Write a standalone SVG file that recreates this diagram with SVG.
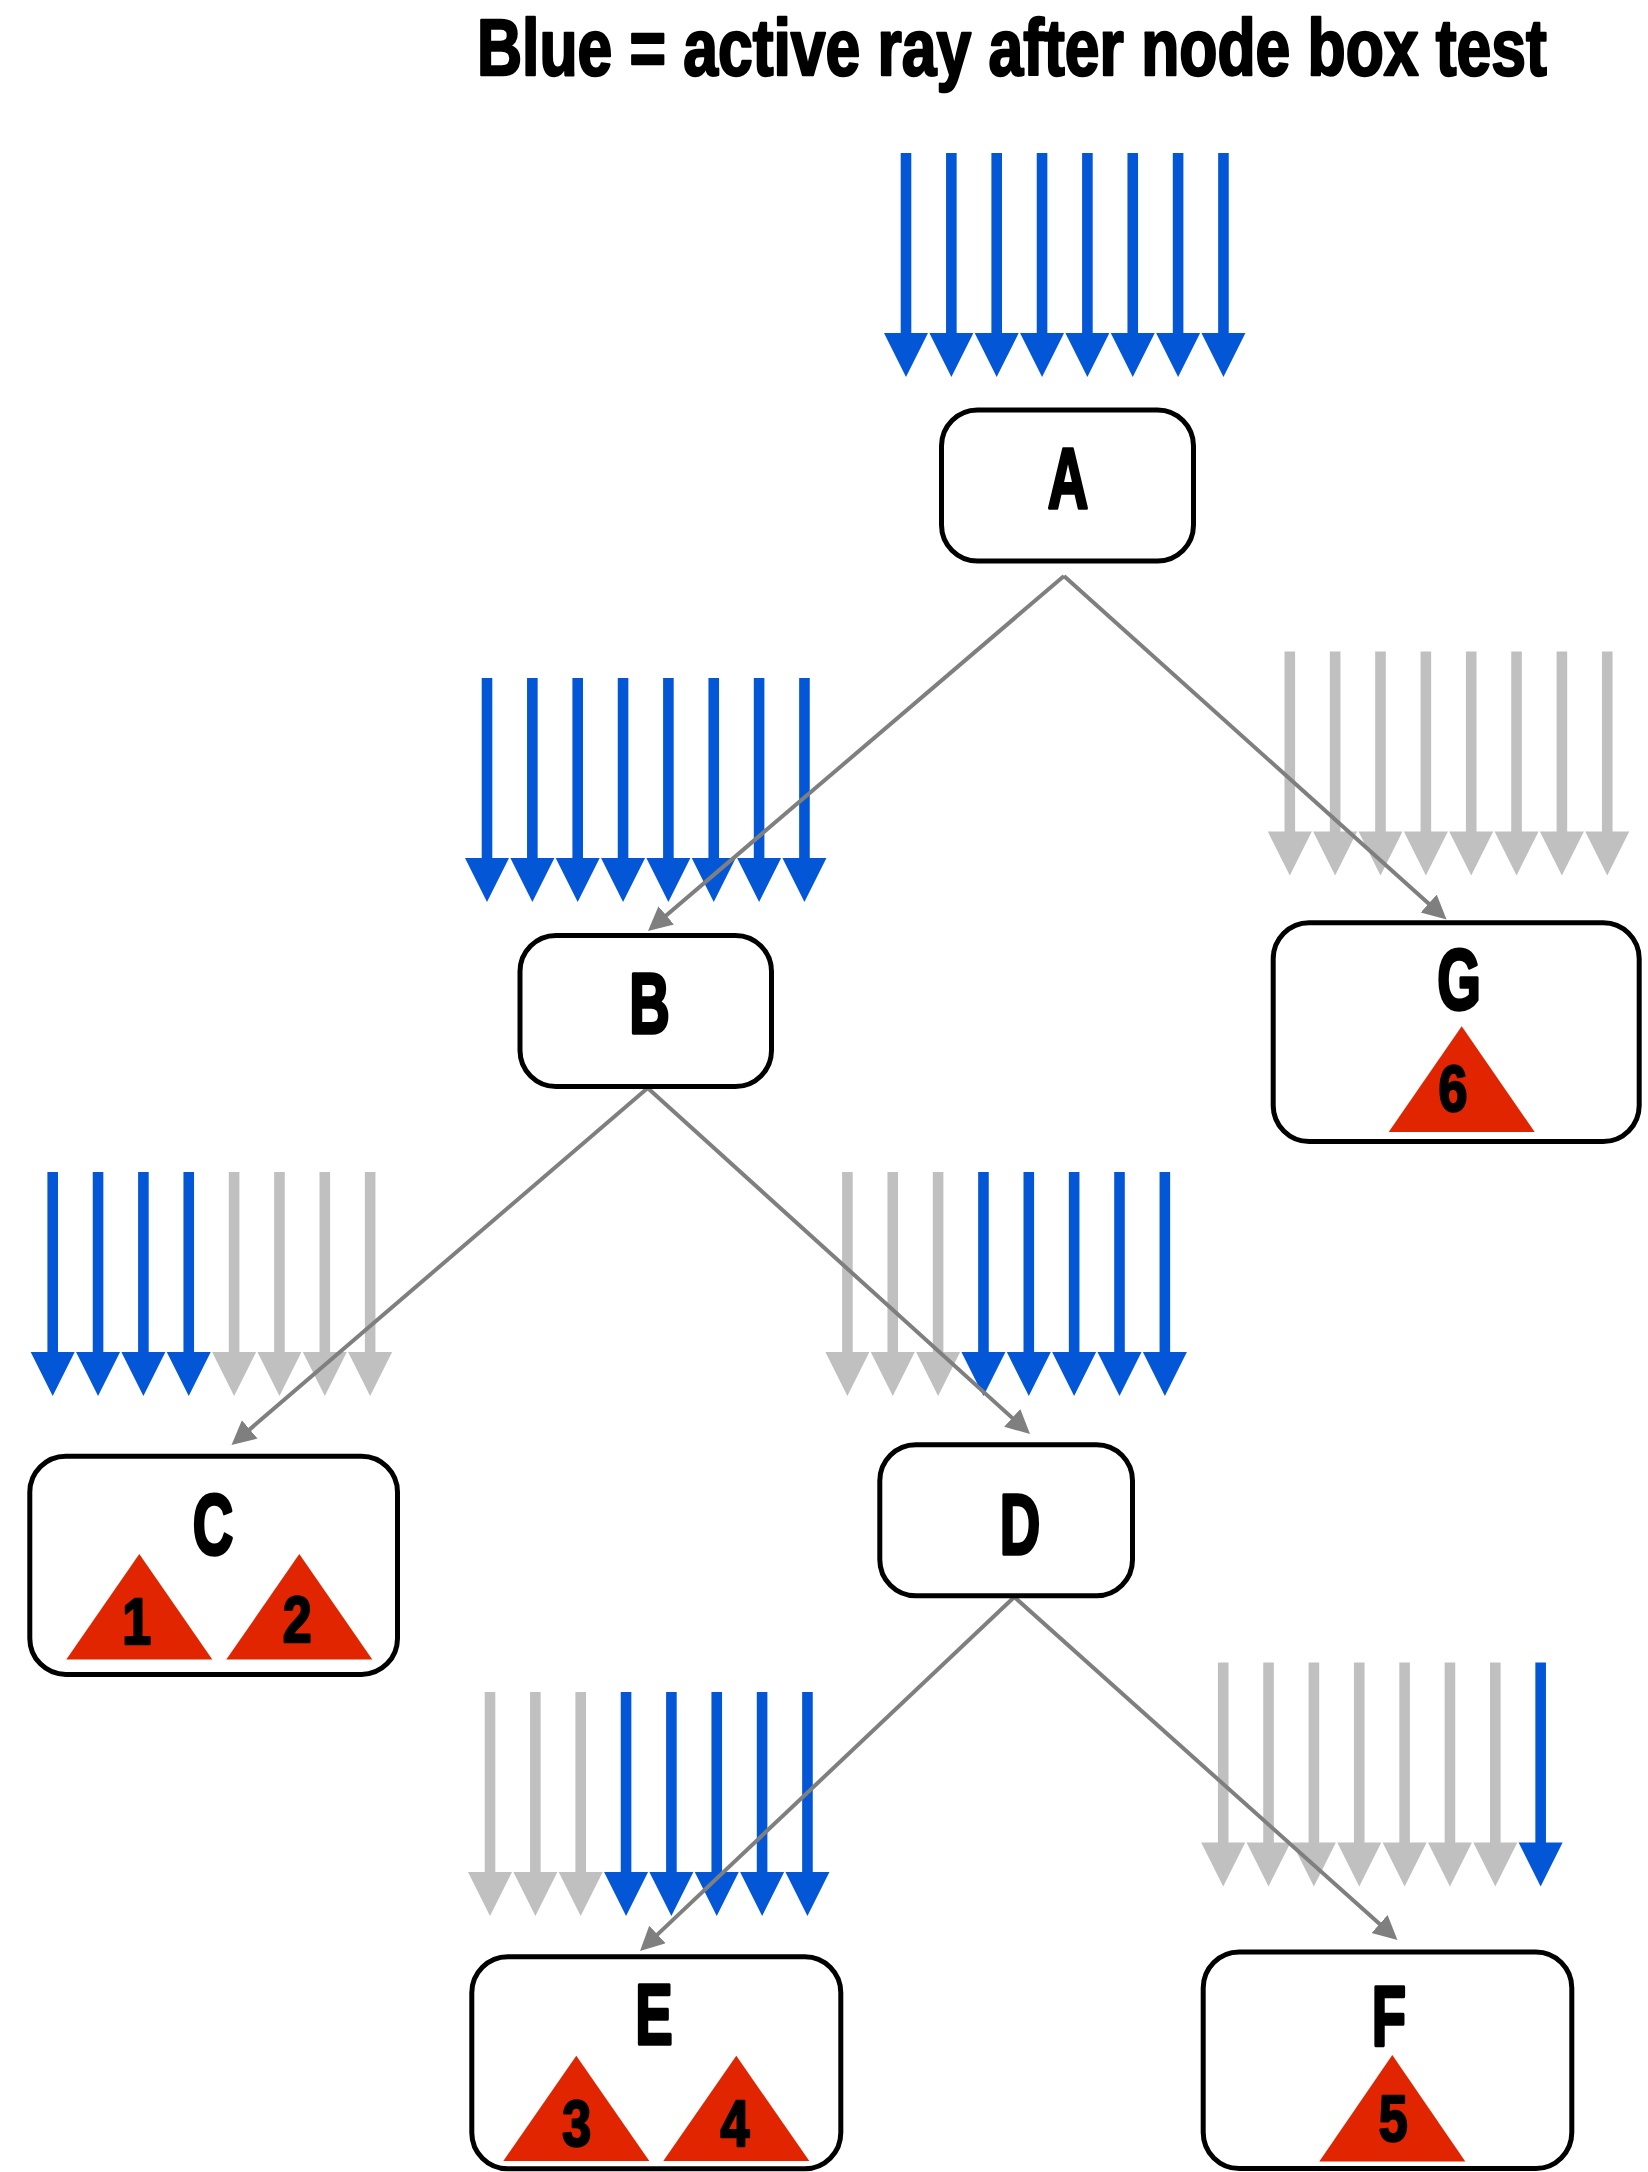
<svg xmlns="http://www.w3.org/2000/svg" width="1648" height="2172" viewBox="0 0 1648 2172">
<style>
.box{fill:#fff;stroke:#000;stroke-width:5}
.lbl{font-family:"Liberation Sans",Arial,sans-serif;font-weight:bold;font-size:85px;fill:#000;stroke:#000;stroke-width:3.5;stroke-linejoin:round;text-anchor:middle}
.num{font-family:"Liberation Sans",Arial,sans-serif;font-weight:bold;font-size:65px;fill:#000;stroke:#000;stroke-width:2.5;stroke-linejoin:round;text-anchor:middle}
.tri{fill:#E12500}
.conn{stroke:#7F7F7F;stroke-width:4;fill:none;marker-end:url(#ah)}
.title{font-family:"Liberation Sans",Arial,sans-serif;font-weight:bold;font-size:79px;fill:#000;stroke:#000;stroke-width:2.5;stroke-linejoin:round}
</style>
<defs>
<marker id="ah" markerUnits="userSpaceOnUse" markerWidth="26" markerHeight="26" refX="14" refY="12" orient="auto">
<path d="M0,0 L24,12 L0,24 z" fill="#7F7F7F"/>
</marker>
<g id="rb"><rect x="-5.3" y="0" width="10.6" height="181" fill="#0357D6"/><polygon points="-22,180 22,180 0,224" fill="#0357D6"/></g>
<g id="rg"><rect x="-5.3" y="0" width="10.6" height="181" fill="#C0C0C0"/><polygon points="-22,180 22,180 0,224" fill="#C0C0C0"/></g>
</defs>
<rect width="1648" height="2172" fill="#fff"/>
<text class="title" transform="translate(477,75) scale(0.79,1)">Blue = active ray after node box test</text>

<g id="rays">
<g id="rays-A" transform="translate(906,153)">
<use href="#rb" x="0"/><use href="#rb" x="45.35"/><use href="#rb" x="90.7"/><use href="#rb" x="136.05"/><use href="#rb" x="181.4"/><use href="#rb" x="226.75"/><use href="#rb" x="272.1"/><use href="#rb" x="317.45"/>
</g>
<g id="rays-B" transform="translate(487,678)">
<use href="#rb" x="0"/><use href="#rb" x="45.35"/><use href="#rb" x="90.7"/><use href="#rb" x="136.05"/><use href="#rb" x="181.4"/><use href="#rb" x="226.75"/><use href="#rb" x="272.1"/><use href="#rb" x="317.45"/>
</g>
<g id="rays-G" transform="translate(1289.8,651.5)">
<use href="#rg" x="0"/><use href="#rg" x="45.35"/><use href="#rg" x="90.7"/><use href="#rg" x="136.05"/><use href="#rg" x="181.4"/><use href="#rg" x="226.75"/><use href="#rg" x="272.1"/><use href="#rg" x="317.45"/>
</g>
<g id="rays-C" transform="translate(52.7,1172)">
<use href="#rb" x="0"/><use href="#rb" x="45.35"/><use href="#rb" x="90.7"/><use href="#rb" x="136.05"/><use href="#rg" x="181.4"/><use href="#rg" x="226.75"/><use href="#rg" x="272.1"/><use href="#rg" x="317.45"/>
</g>
<g id="rays-D" transform="translate(847.4,1172)">
<use href="#rg" x="0"/><use href="#rg" x="45.35"/><use href="#rg" x="90.7"/><use href="#rb" x="136.05"/><use href="#rb" x="181.4"/><use href="#rb" x="226.75"/><use href="#rb" x="272.1"/><use href="#rb" x="317.45"/>
</g>
<g id="rays-E" transform="translate(490,1692)">
<use href="#rg" x="0"/><use href="#rg" x="45.35"/><use href="#rg" x="90.7"/><use href="#rb" x="136.05"/><use href="#rb" x="181.4"/><use href="#rb" x="226.75"/><use href="#rb" x="272.1"/><use href="#rb" x="317.45"/>
</g>
<g id="rays-F" transform="translate(1223.2,1662.5)">
<use href="#rg" x="0"/><use href="#rg" x="45.35"/><use href="#rg" x="90.7"/><use href="#rg" x="136.05"/><use href="#rg" x="181.4"/><use href="#rg" x="226.75"/><use href="#rg" x="272.1"/><use href="#rb" x="317.45"/>
</g>
</g>

<g id="connectors">
<line class="conn" x1="1064" y1="576" x2="655.6" y2="924.5"/>
<line class="conn" x1="1064" y1="576" x2="1439.1" y2="912.9"/>
<line class="conn" x1="647.7" y1="1088" x2="239.1" y2="1438.5"/>
<line class="conn" x1="647.7" y1="1088" x2="1022.6" y2="1427.3"/>
<line class="conn" x1="1014.3" y1="1597" x2="647.3" y2="1944.1"/>
<line class="conn" x1="1014.3" y1="1597" x2="1390" y2="1933.3"/>
</g>

<g id="node-A">
<rect class="box" x="941.5" y="410" width="252" height="151" rx="36"/>
<text class="lbl" transform="translate(1068,508) scale(0.66,1)">A</text>
</g>
<g id="node-B">
<rect class="box" x="520" y="935.5" width="251.5" height="151" rx="36"/>
<text class="lbl" transform="translate(649.5,1033) scale(0.66,1)">B</text>
</g>
<g id="node-G">
<rect class="box" x="1273.2" y="922.8" width="366" height="218.7" rx="36"/>
<text class="lbl" transform="translate(1459,1009) scale(0.66,1)">G</text>
<polygon class="tri" points="1461.7,1026.3 1534.7,1132 1388.7,1132"/>
<text class="num" transform="translate(1453,1111) scale(0.8,1)">6</text>
</g>
<g id="node-C">
<rect class="box" x="29.8" y="1456.2" width="367.7" height="218.2" rx="36"/>
<text class="lbl" transform="translate(213,1553.5) scale(0.66,1)">C</text>
<polygon class="tri" points="139.3,1554 212.3,1659.6 66.3,1659.6"/>
<polygon class="tri" points="299.3,1554 372.3,1659.6 226.3,1659.6"/>
<text class="num" transform="translate(136.7,1644) scale(0.8,1)">1</text>
<text class="num" transform="translate(297.3,1642) scale(0.8,1)">2</text>
</g>
<g id="node-D">
<rect class="box" x="879.8" y="1444.8" width="252.7" height="151" rx="36"/>
<text class="lbl" transform="translate(1020,1554) scale(0.66,1)">D</text>
</g>
<g id="node-E">
<rect class="box" x="471.8" y="1956.8" width="369" height="212" rx="36"/>
<text class="lbl" transform="translate(654,2043.5) scale(0.66,1)">E</text>
<polygon class="tri" points="576.3,2055.7 649.3,2161 503.3,2161"/>
<polygon class="tri" points="736.3,2055.7 809.3,2161 663.3,2161"/>
<text class="num" transform="translate(576.7,2145.5) scale(0.8,1)">3</text>
<text class="num" transform="translate(735,2145.5) scale(0.8,1)">4</text>
</g>
<g id="node-F">
<rect class="box" x="1203.2" y="1952" width="368.6" height="216.5" rx="36"/>
<text class="lbl" transform="translate(1389,2046) scale(0.66,1)">F</text>
<polygon class="tri" points="1392.3,2055 1465.3,2161.5 1319.3,2161.5"/>
<text class="num" transform="translate(1393.3,2140.5) scale(0.8,1)">5</text>
</g>
</svg>
